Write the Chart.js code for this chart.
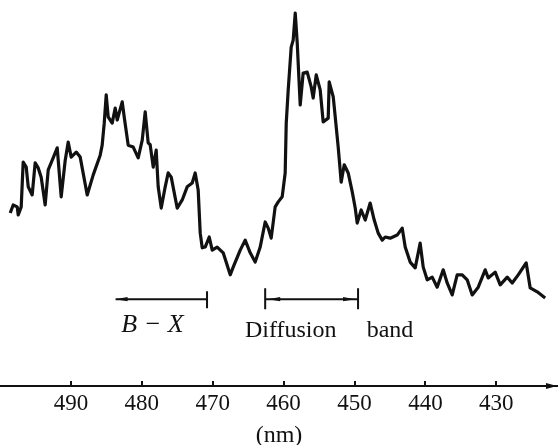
<!DOCTYPE html>
<html>
<head>
<meta charset="utf-8">
<script src="https://cdn.jsdelivr.net/npm/chart.js@4/dist/chart.umd.min.js"></script>
<style>
  html, body { margin: 0; padding: 0; background: #fff; overflow: hidden; }
  canvas { display: block; }
</style>
</head>
<body>
<canvas id="spectrum" width="558" height="445"></canvas>
<script>
// wavelength (nm) and relative intensity
const wavelength = [
  498.56, 498.14, 497.57, 497.43, 497.01, 496.73, 496.30, 496.02, 495.46, 495.04,
  494.61, 494.19, 493.63, 493.20, 492.50, 491.93, 491.37, 490.80, 490.38, 489.96,
  489.25, 488.69, 487.70, 486.85, 485.87, 485.59, 485.30, 485.02, 484.74, 484.18,
  483.75, 483.47, 482.76, 482.48, 481.92, 481.21, 480.51, 479.94, 479.52, 479.10,
  478.82, 478.39, 477.97, 477.69, 477.26, 476.70, 476.28, 475.85, 475.01, 474.30,
  473.60, 472.89, 472.47, 472.05, 471.76, 471.48, 471.06, 470.49, 470.07, 469.37,
  468.52, 467.53, 467.11, 466.12, 465.42, 464.71, 464.01, 463.30, 462.60, 462.17,
  461.75, 461.19, 460.76, 460.20, 459.78, 459.63, 459.35, 458.93, 458.65, 458.36,
  458.08, 457.66, 457.24, 456.67, 456.11, 455.83, 455.40, 454.84, 454.42, 453.71,
  453.57, 453.00, 452.72, 452.30, 451.88, 451.45, 450.89, 450.32, 449.90, 449.62,
  449.06, 448.49, 447.79, 447.22, 446.66, 446.09, 445.67, 444.97, 443.98, 443.27,
  442.85, 442.15, 441.44, 440.74, 440.31, 439.75, 439.04, 438.34, 437.49, 436.93,
  436.22, 435.52, 434.81, 434.11, 433.40, 432.55, 431.57, 431.14, 430.16, 429.45,
  428.46, 427.76, 426.91, 425.79, 425.22, 424.23, 423.11
];
const intensity = [
  44.8, 46.9, 46.4, 44.3, 46.4, 58.0, 56.7, 51.6, 49.5, 57.8,
  56.5, 54.1, 46.9, 56.0, 59.1, 61.7, 49.0, 58.5, 63.2, 59.3,
  60.6, 59.3, 49.5, 54.7, 59.8, 62.4, 68.1, 75.4, 69.7, 68.1,
  72.0, 68.9, 73.6, 69.7, 62.4, 61.9, 59.1, 63.7, 71.0, 63.0,
  62.5, 56.7, 61.1, 51.6, 46.1, 51.6, 55.2, 54.1, 46.1, 48.2,
  51.6, 52.6, 55.2, 50.8, 39.6, 35.8, 36.0, 38.6, 35.2, 36.0,
  34.5, 28.8, 30.8, 35.2, 37.8, 34.5, 32.1, 36.0, 42.5, 40.9,
  38.3, 46.4, 47.7, 49.0, 55.2, 68.1, 76.7, 87.8, 89.6, 96.6,
  88.9, 72.8, 81.1, 81.3, 77.5, 74.6, 80.6, 76.7, 68.4, 69.4,
  78.8, 74.9, 69.7, 61.9, 52.8, 57.3, 55.2, 50.3, 46.1, 42.2,
  45.6, 43.0, 47.4, 43.0, 39.6, 37.8, 38.6, 38.3, 39.1, 40.9,
  36.0, 32.1, 30.6, 37.0, 30.8, 27.5, 28.2, 25.6, 30.1, 26.7,
  23.6, 28.8, 28.8, 27.5, 23.6, 25.6, 30.1, 28.0, 29.5, 26.2,
  28.2, 26.7, 28.8, 31.9, 25.4, 24.4, 22.8
];
const tickValues = [490, 480, 470, 460, 450, 440, 430];

// annotation ranges (nm) under the trace
const bandBX = [483.7, 470.8];
const bandDiffusion = [462.6, 449.5];

const FONT = '"Liberation Serif", "DejaVu Serif", serif';

function arrowHead(ctx, tipX, y, dir, len, half) {
  ctx.beginPath();
  ctx.moveTo(tipX, y);
  ctx.lineTo(tipX - dir * len, y - half);
  ctx.lineTo(tipX - dir * len, y + half);
  ctx.closePath();
  ctx.fill();
}

const decorations = {
  id: 'decorations',
  afterDraw(chart) {
    const ctx = chart.ctx;
    const x = chart.scales.x;
    const y = chart.scales.y;
    const base = chart.chartArea.bottom;
    ctx.save();
    ctx.strokeStyle = '#111';
    ctx.fillStyle = '#111';
    ctx.lineWidth = 2;

    // little upward ticks on the axis
    tickValues.forEach(v => {
      const px = Math.round(x.getPixelForValue(v));
      ctx.beginPath();
      ctx.moveTo(px, base);
      ctx.lineTo(px, base - 5);
      ctx.stroke();
    });
    // arrow at right end of the axis
    arrowHead(ctx, chart.chartArea.right - 1, base, 1, 11, 3);

    // B-X bracket
    const lvl = y.getPixelForValue(22.5);
    let x1 = x.getPixelForValue(bandBX[0]);
    let x2 = x.getPixelForValue(bandBX[1]);
    ctx.beginPath();
    ctx.moveTo(x1, lvl); ctx.lineTo(x2, lvl);
    ctx.moveTo(x2, lvl - 8); ctx.lineTo(x2, lvl + 9);
    ctx.stroke();
    arrowHead(ctx, x1, lvl, -1, 12, 2.2);

    // diffusion band bracket
    x1 = x.getPixelForValue(bandDiffusion[0]);
    x2 = x.getPixelForValue(bandDiffusion[1]);
    ctx.beginPath();
    ctx.moveTo(x1, lvl); ctx.lineTo(x2, lvl);
    ctx.moveTo(x1, lvl - 11); ctx.lineTo(x1, lvl + 10);
    ctx.moveTo(x2, lvl - 11); ctx.lineTo(x2, lvl + 10);
    ctx.stroke();
    arrowHead(ctx, x1 + 3, lvl, -1, 12, 2.2);
    arrowHead(ctx, x2 - 3, lvl, 1, 12, 2.2);

    // labels
    ctx.textAlign = 'center';
    ctx.textBaseline = 'alphabetic';
    ctx.font = 'italic 26px ' + FONT;
    ctx.fillText('B \u2212 X', x.getPixelForValue(478.5), y.getPixelForValue(14.0));
    ctx.font = '24px ' + FONT;
    ctx.fillText('Diffusion', x.getPixelForValue(459.0), y.getPixelForValue(12.7));
    ctx.fillText('band', x.getPixelForValue(445.0), y.getPixelForValue(12.7));
    ctx.restore();
  }
};

new Chart(document.getElementById('spectrum'), {
  type: 'scatter',
  data: {
    datasets: [{
      data: wavelength.map((w, i) => ({ x: w, y: intensity[i] })),
      showLine: true,
      borderColor: '#111',
      borderWidth: 3.2,
      borderJoinStyle: 'round',
      pointRadius: 0,
      tension: 0
    }]
  },
  options: {
    responsive: false,
    animation: false,
    layout: { padding: 0 },
    plugins: { legend: { display: false }, tooltip: { enabled: false } },
    scales: {
      x: {
        type: 'linear',
        reverse: true,
        min: 421.3,
        max: 500,
        afterBuildTicks: scale => { scale.ticks = tickValues.map(v => ({ value: v })); },
        afterFit: scale => { scale.height = 59; },
        grid: { display: false, drawTicks: false },
        border: { display: true, color: '#111', width: 2 },
        ticks: {
          color: '#111',
          padding: 4,
          maxRotation: 0,
          autoSkip: false,
          font: { family: FONT, size: 23 }
        },
        title: {
          display: true,
          text: '(nm)',
          color: '#111',
          padding: { top: 0, bottom: -3 },
          font: { family: FONT, size: 24, lineHeight: 1 }
        }
      },
      y: {
        display: false,
        min: 0,
        max: 100
      }
    }
  },
  plugins: [decorations]
});
</script>
</body>
</html>
